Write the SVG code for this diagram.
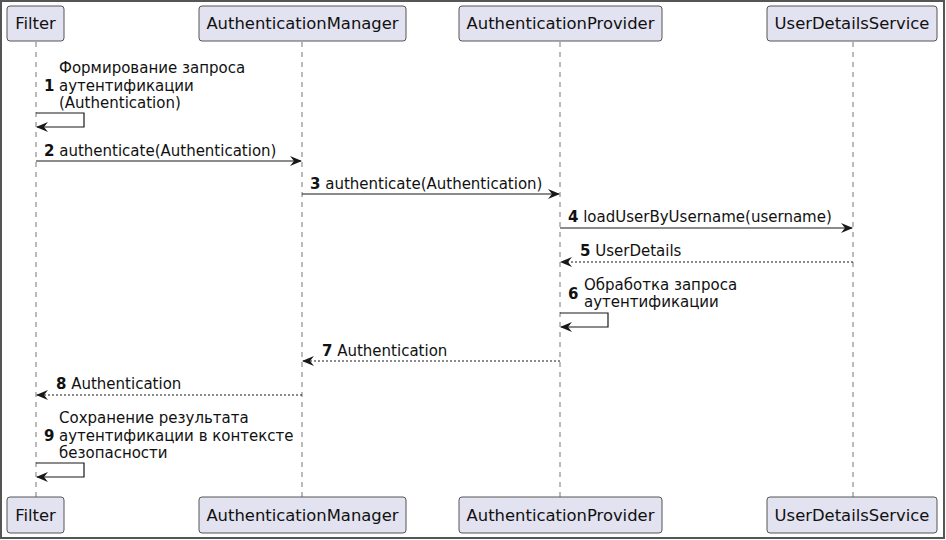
<svg xmlns="http://www.w3.org/2000/svg" width="946" height="540" viewBox="0 0 946 540">
<style>
.bx{fill:#E2E2F0;stroke:#555;stroke-width:1}
.pt{font-family:"DejaVu Sans",sans-serif;font-size:16.4px;fill:#111}
.ll{stroke:#777;stroke-width:1;stroke-dasharray:5,5;fill:none}
.m{stroke:#181818;stroke-width:1.2;fill:none}
.d{stroke:#181818;stroke-width:1.2;fill:none;stroke-dasharray:2,2}
.t{font-family:"DejaVu Sans",sans-serif;font-size:15px;fill:#111}
.n{font-weight:bold}
</style>
<defs>
<marker id="ah" viewBox="0 0 12 10" refX="11" refY="5" markerWidth="12" markerHeight="10" markerUnits="userSpaceOnUse" orient="auto">
<path d="M0,0 L12,5 L0,10 L4,5 Z" fill="#181818"/>
</marker>
</defs>
<rect x="0" y="0" width="946" height="540" fill="#fff"/>
<rect x="1" y="1" width="943" height="537" fill="none" stroke="#555" stroke-width="2"/>
<g id="lifelines">
<line class="ll" x1="36" y1="42" x2="36" y2="497"/>
<line class="ll" x1="302" y1="42" x2="302" y2="497"/>
<line class="ll" x1="560" y1="42" x2="560" y2="497"/>
<line class="ll" x1="853" y1="42" x2="853" y2="497"/>
</g>
<g id="Filter">
<rect class="bx" x="7" y="6" width="57" height="35" rx="3"/>
<text class="pt" x="35.5" y="29" text-anchor="middle">Filter</text>
<rect class="bx" x="7" y="497" width="57" height="36" rx="3"/>
<text class="pt" x="35.5" y="521" text-anchor="middle">Filter</text>
</g>
<g id="AuthenticationManager">
<rect class="bx" x="199" y="6" width="207" height="35" rx="3"/>
<text class="pt" x="302.5" y="29" text-anchor="middle">AuthenticationManager</text>
<rect class="bx" x="199" y="497" width="207" height="36" rx="3"/>
<text class="pt" x="302.5" y="521" text-anchor="middle">AuthenticationManager</text>
</g>
<g id="AuthenticationProvider">
<rect class="bx" x="459" y="6" width="203" height="35" rx="3"/>
<text class="pt" x="560.5" y="29" text-anchor="middle">AuthenticationProvider</text>
<rect class="bx" x="459" y="497" width="203" height="36" rx="3"/>
<text class="pt" x="560.5" y="521" text-anchor="middle">AuthenticationProvider</text>
</g>
<g id="UserDetailsService">
<rect class="bx" x="767" y="6" width="170" height="35" rx="3"/>
<text class="pt" x="852" y="29" text-anchor="middle">UserDetailsService</text>
<rect class="bx" x="767" y="497" width="170" height="36" rx="3"/>
<text class="pt" x="852" y="521" text-anchor="middle">UserDetailsService</text>
</g>
<g id="connectors">
<polyline class="m" points="36,113 84,113 84,127 37,127" marker-end="url(#ah)"/>
<line class="m" x1="36" y1="161" x2="301" y2="161" marker-end="url(#ah)"/>
<line class="m" x1="302" y1="194" x2="559" y2="194" marker-end="url(#ah)"/>
<line class="m" x1="560" y1="228" x2="852" y2="228" marker-end="url(#ah)"/>
<line class="d" x1="853" y1="262" x2="561" y2="262" marker-end="url(#ah)"/>
<polyline class="m" points="560,313 608,313 608,327 561,327" marker-end="url(#ah)"/>
<line class="d" x1="560" y1="361" x2="303" y2="361" marker-end="url(#ah)"/>
<line class="d" x1="302" y1="395" x2="37" y2="395" marker-end="url(#ah)"/>
<polyline class="m" points="36,463 84,463 84,477 37,477" marker-end="url(#ah)"/>
</g>
<g id="labels">
<text class="t" x="44" y="91"><tspan class="n">1</tspan></text>
<text class="t" x="59" y="73">Формирование запроса</text>
<text class="t" x="59" y="91">аутентификации</text>
<text class="t" x="59" y="108">(Authentication)</text>
<text class="t" x="44" y="156"><tspan class="n">2</tspan> authenticate(Authentication)</text>
<text class="t" x="310" y="189"><tspan class="n">3</tspan> authenticate(Authentication)</text>
<text class="t" x="568" y="222"><tspan class="n">4</tspan> loadUserByUsername(username)</text>
<text class="t" x="580" y="256"><tspan class="n">5</tspan> UserDetails</text>
<text class="t" x="568" y="299"><tspan class="n">6</tspan></text>
<text class="t" x="584" y="290">Обработка запроса</text>
<text class="t" x="584" y="307">аутентификации</text>
<text class="t" x="322" y="356"><tspan class="n">7</tspan> Authentication</text>
<text class="t" x="56" y="389"><tspan class="n">8</tspan> Authentication</text>
<text class="t" x="44" y="441"><tspan class="n">9</tspan></text>
<text class="t" x="59" y="423">Сохранение результата</text>
<text class="t" x="59" y="441">аутентификации в контексте</text>
<text class="t" x="59" y="458">безопасности</text>
</g>
</svg>
